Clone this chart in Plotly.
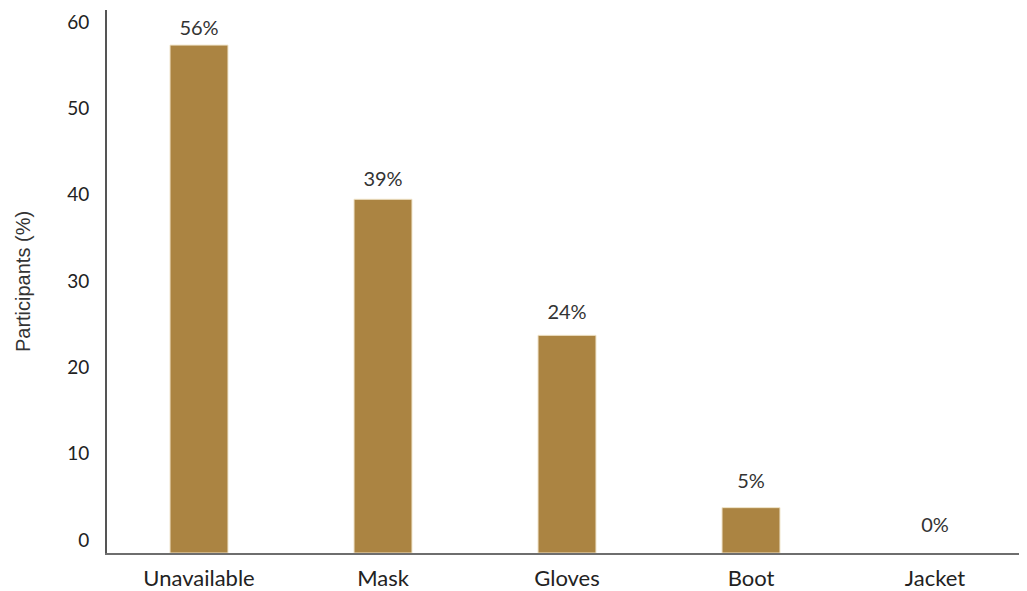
import plotly.graph_objects as go

categories = ["Unavailable", "Mask", "Gloves", "Boot", "Jacket"]
values = [56, 39, 24, 5, 0]
tick_values = [0, 10, 20, 30, 40, 50, 60]
labels = [f"{v}%" for v in values]

BAR = "#AB8442"

fig = go.Figure()
fig.add_trace(go.Bar(
    x=categories, y=values, yaxis="y2",
    marker=dict(color=BAR,
                line=dict(color="#EFE3C8", width=[1 if v > 0 else 0 for v in values])),
    width=0.315,
    hoverinfo="skip",
))
# value labels
fig.add_trace(go.Scatter(
    x=categories, y=values, yaxis="y3", mode="text",
    text=labels, textposition="middle center", cliponaxis=False,
    textfont=dict(family="Lato", size=20, color="#333333"),
    hoverinfo="skip",
))
# invisible trace so the label axis renders
fig.add_trace(go.Scatter(x=categories, y=[None]*5, yaxis="y", showlegend=False, hoverinfo="skip"))

fig.update_layout(
    width=1019, height=583,
    margin=dict(l=99, r=0, t=2, b=38),
    plot_bgcolor="white", paper_bgcolor="white",
    showlegend=False,
    xaxis=dict(
        range=[-0.5, 4.5], showgrid=False, zeroline=False, automargin=False,
        showline=True, linecolor="#6E6E6E", linewidth=2,
        ticks="", ticklabelstandoff=5,
        tickfont=dict(family="Lato", size=22, color="#222222"),
    ),
    yaxis=dict(
        range=[-1.506, 61.39], tickvals=tick_values, automargin=False,
        showgrid=False, zeroline=False,
        showline=True, linecolor="#555555", linewidth=2,
        ticks="", ticklabelstandoff=12,
        tickfont=dict(family="Lato", size=19, color="#222222"),
        title=dict(text="Participants (%)", standoff=31,
                   font=dict(family="Liberation Sans", size=20, color="#333333")),
    ),
    yaxis2=dict(range=[0, 59.87], overlaying="y", visible=False),
    yaxis3=dict(range=[-2.93, 58.25], overlaying="y", visible=False),
)

fig.write_html("out.html")
